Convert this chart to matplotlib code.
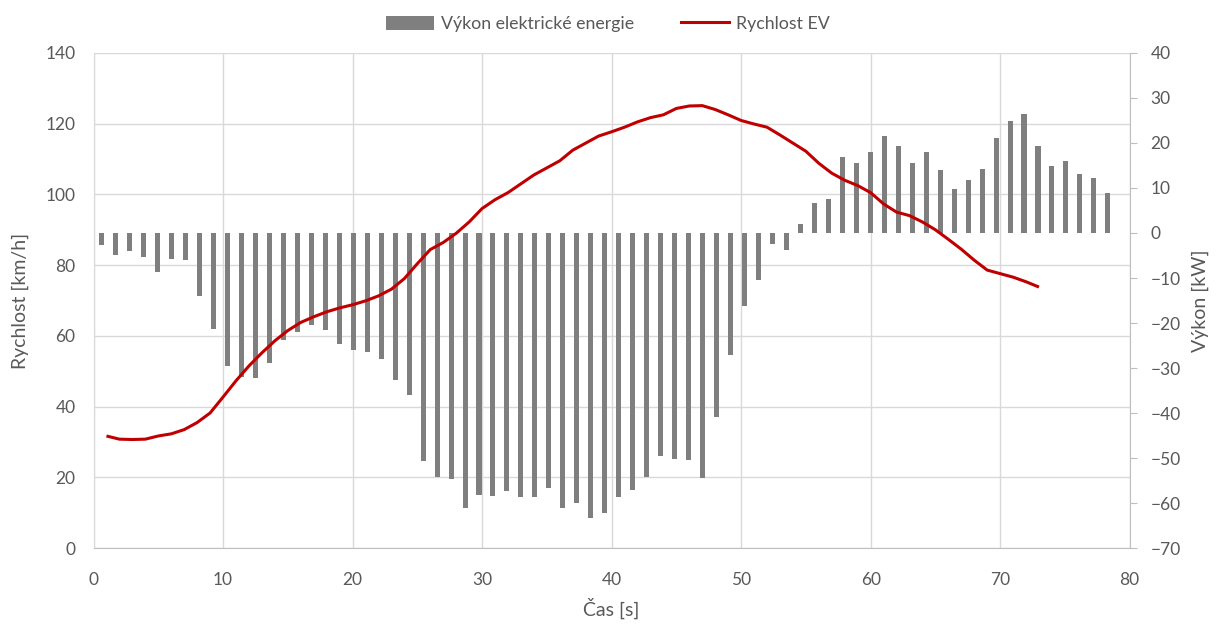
import numpy as np
import matplotlib
matplotlib.use("Agg")
import matplotlib.pyplot as plt
from matplotlib.lines import Line2D
from matplotlib.patches import Patch

plt.rcParams['font.family'] = ['Lato', 'DejaVu Sans']

# --- data ---
time_s = list(range(1, 74))
speed_kmh = [31.7, 30.8, 30.7, 30.8, 31.7, 32.3, 33.5, 35.5, 38.2, 42.7,
             47.3, 51.5, 55.2, 58.6, 61.5, 63.8, 65.4, 66.8, 67.9, 68.8,
             69.9, 71.3, 73.2, 76.2, 80.4, 84.4, 86.4, 89.0, 92.2, 96.0,
             98.5, 100.5, 103.0, 105.5, 107.5, 109.5, 112.5, 114.5, 116.5, 117.7,
             119.0, 120.5, 121.7, 122.5, 124.3, 125.0, 125.1, 124.0, 122.5, 120.9,
             119.9, 119.0, 116.8, 114.5, 112.2, 108.8, 106.0, 104.0, 102.5, 100.5,
             97.3, 95.0, 94.0, 92.2, 90.0, 87.3, 84.5, 81.4, 78.6, 77.6,
             76.6, 75.3, 73.8]
power_kw = [-2.7, -4.9, -4.1, -5.3, -8.7, -5.8, -6.1, -14.1, -21.3, -29.6,
            -32.1, -32.2, -28.9, -23.7, -22.1, -20.5, -21.6, -24.7, -25.9, -26.4,
            -28.1, -32.7, -36.0, -50.7, -54.1, -54.6, -61.1, -58.3, -58.4, -57.4,
            -58.7, -58.7, -56.6, -61.2, -60.0, -63.3, -62.1, -58.7, -57.0, -54.1,
            -49.5, -50.3, -50.5, -54.5, -40.9, -27.2, -16.3, -10.4, -2.5, -3.7,
            2.1, 6.7, 7.6, 16.9, 15.6, 18.1, 21.5, 19.3, 15.6, 18.1,
            13.9, 9.7, 11.8, 14.3, 21.0, 24.9, 26.4, 19.3, 14.8, 16.0,
            13.1, 12.2, 8.9]
bar_index = list(range(1, len(power_kw) + 1))

x_ticks = [0, 10, 20, 30, 40, 50, 60, 70, 80]
left_ticks = [0, 20, 40, 60, 80, 100, 120, 140]
right_ticks = [-70, -60, -50, -40, -30, -20, -10, 0, 10, 20, 30, 40]

bar_label = "Výkon elektrické energie"
line_label = "Rychlost EV"

# --- style ---
text_col = "#595959"
grid_col = "#d9d9d9"
bar_col = "#7f7f7f"
line_col = "#c00000"

fig = plt.figure(figsize=(12.16, 6.30), dpi=100)
ax = fig.add_axes([0.0769, 0.130, 0.929 - 0.0769, 0.916 - 0.130])
ax.set_xlim(0, 80)
ax.set_ylim(0, 140)
ax.set_xticks(x_ticks)
ax.set_yticks(left_ticks)
ax.grid(True, color=grid_col, linewidth=1.0)
ax.set_axisbelow(True)
ax.tick_params(axis='y', length=0, labelsize=12.5, labelcolor=text_col, pad=13)
ax.tick_params(axis='x', length=0, labelsize=12.5, labelcolor=text_col, pad=17)
for s in ['top', 'right']:
    ax.spines[s].set_visible(False)
ax.spines['left'].set_color(grid_col)
ax.spines['bottom'].set_color("#bfbfbf")
ax.set_xlabel("Čas [s]", fontsize=14, color=text_col, labelpad=7)
ax.set_ylabel("Rychlost [km/h]", fontsize=14, color=text_col, labelpad=12)

# right axis (power) with bars
axr = ax.twinx()
axr.set_ylim(-70, 40)
axr.set_yticks(right_ticks)
axr.tick_params(axis='y', length=5, color="#bfbfbf", labelsize=12.5, labelcolor=text_col, pad=10)
for s in ['top', 'left', 'bottom']:
    axr.spines[s].set_visible(False)
axr.spines['right'].set_color("#bfbfbf")
axr.set_ylabel("Výkon [kW]", fontsize=14, color=text_col, labelpad=8)

# bars on their own hidden category axis (like a secondary category axis)
axb = axr.twiny()
axb.set_xlim(0.416, 74.56)
axb.bar(bar_index, power_kw, width=0.36, color=bar_col, zorder=2)
axb.set_xticks([])
for s in axb.spines.values():
    s.set_visible(False)

# speed line drawn above bars, using speed axis transform
axb.plot(time_s, speed_kmh, color=line_col, linewidth=2.2, zorder=3,
         transform=ax.transData, solid_capstyle='butt')
axb.set_ylim(-70, 40)

handles = [Patch(facecolor=bar_col, edgecolor='none'),
           Line2D([0], [0], color=line_col, linewidth=2.2)]
fig.legend(handles, [bar_label, line_label], loc='center', bbox_to_anchor=(0.5, 0.962),
           ncol=2, frameon=False, fontsize=12.8, labelcolor=text_col,
           handlelength=2.7, handleheight=0.8, columnspacing=2.6, handletextpad=0.4)

fig.savefig("out.png", dpi=100, facecolor="white")
